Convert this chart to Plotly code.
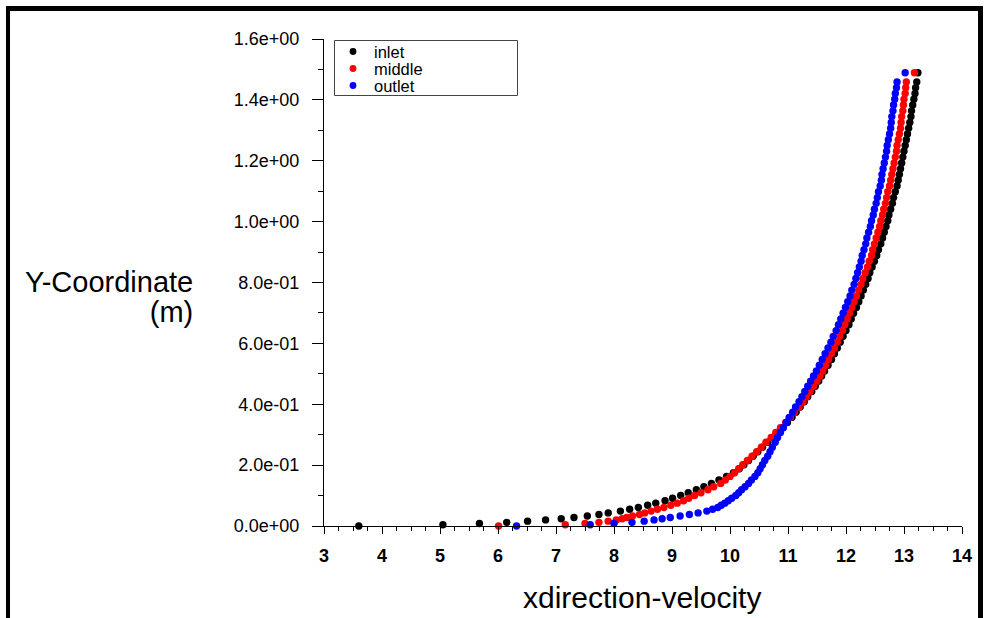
import plotly.graph_objects as go

# ---------------- data ----------------
y_coord = [0, 0.004, 0.008, 0.012, 0.016, 0.020, 0.024, 0.028, 0.033, 0.038,
           0.043, 0.049, 0.055, 0.061, 0.068, 0.075, 0.083, 0.091, 0.100, 0.109,
           0.119, 0.129, 0.140, 0.151, 0.163, 0.175, 0.188, 0.201, 0.215, 0.229,
           0.244, 0.259, 0.275, 0.291, 0.307, 0.323, 0.340, 0.357, 0.374, 0.391,
           0.408, 0.425, 0.442, 0.459, 0.476, 0.493, 0.509, 0.528, 0.547, 0.566,
           0.585, 0.604, 0.623, 0.642, 0.661, 0.680, 0.699, 0.718, 0.737, 0.756,
           0.775, 0.794, 0.813, 0.832, 0.851, 0.870, 0.889, 0.908, 0.927, 0.946,
           0.965, 0.984, 1.003, 1.022, 1.041, 1.060, 1.079, 1.098, 1.117, 1.136,
           1.155, 1.174, 1.193, 1.212, 1.231, 1.250, 1.269, 1.288, 1.307, 1.326,
           1.345, 1.364, 1.383, 1.402, 1.421, 1.440, 1.459, 1.489]

inlet_x = [3.60, 5.05, 5.68, 6.15, 6.51, 6.82, 7.09, 7.31, 7.54, 7.74,
           7.90, 8.11, 8.27, 8.42, 8.58, 8.72, 8.88, 9.01, 9.15, 9.28,
           9.42, 9.55, 9.68, 9.81, 9.94, 10.06, 10.16, 10.24, 10.32, 10.40,
           10.48, 10.56, 10.65, 10.73, 10.82, 10.90, 10.99, 11.07, 11.14, 11.21,
           11.28, 11.34, 11.41, 11.47, 11.53, 11.58, 11.63, 11.69, 11.75, 11.80,
           11.85, 11.90, 11.95, 12.00, 12.05, 12.09, 12.13, 12.18, 12.22, 12.26,
           12.30, 12.34, 12.38, 12.41, 12.45, 12.49, 12.53, 12.56, 12.60, 12.63,
           12.66, 12.69, 12.72, 12.74, 12.77, 12.80, 12.82, 12.85, 12.88, 12.90,
           12.92, 12.94, 12.96, 12.98, 13.00, 13.02, 13.04, 13.06, 13.08, 13.10,
           13.12, 13.13, 13.15, 13.17, 13.19, 13.20, 13.22, 13.24]

middle_x = [6.01, 7.16, 7.50, 7.74, 7.90, 8.04, 8.14, 8.22, 8.32, 8.44,
            8.53, 8.64, 8.75, 8.86, 8.98, 9.09, 9.20, 9.29, 9.39, 9.50,
            9.62, 9.72, 9.84, 9.92, 10.00, 10.08, 10.15, 10.22, 10.30, 10.38,
            10.46, 10.54, 10.62, 10.71, 10.79, 10.87, 10.96, 11.04, 11.11, 11.19,
            11.26, 11.32, 11.38, 11.44, 11.50, 11.55, 11.60, 11.65, 11.70, 11.75,
            11.80, 11.85, 11.89, 11.94, 11.98, 12.02, 12.06, 12.10, 12.14, 12.18,
            12.22, 12.26, 12.29, 12.33, 12.37, 12.40, 12.44, 12.46, 12.49, 12.52,
            12.55, 12.58, 12.60, 12.63, 12.65, 12.68, 12.70, 12.72, 12.75, 12.77,
            12.79, 12.81, 12.83, 12.85, 12.87, 12.88, 12.90, 12.92, 12.94, 12.95,
            12.96, 12.98, 12.99, 13.00, 13.02, 13.03, 13.04, 13.18]

outlet_x = [6.32, 7.59, 8.00, 8.31, 8.52, 8.69, 8.83, 8.97, 9.14, 9.30,
            9.45, 9.60, 9.70, 9.79, 9.85, 9.91, 9.97, 10.03, 10.10, 10.15,
            10.20, 10.26, 10.32, 10.37, 10.43, 10.48, 10.52, 10.56, 10.60, 10.65,
            10.69, 10.73, 10.78, 10.82, 10.87, 10.92, 10.97, 11.02, 11.08, 11.13,
            11.19, 11.24, 11.29, 11.34, 11.39, 11.44, 11.49, 11.54, 11.59, 11.64,
            11.69, 11.74, 11.78, 11.83, 11.87, 11.91, 11.95, 11.99, 12.03, 12.07,
            12.10, 12.14, 12.17, 12.20, 12.23, 12.26, 12.28, 12.31, 12.34, 12.36,
            12.39, 12.42, 12.44, 12.47, 12.49, 12.52, 12.54, 12.56, 12.59, 12.61,
            12.62, 12.64, 12.66, 12.68, 12.70, 12.71, 12.73, 12.75, 12.77, 12.78,
            12.79, 12.81, 12.82, 12.84, 12.85, 12.87, 12.88, 13.02]

series_names = ["inlet", "middle", "outlet"]
series_colors = ["#000000", "#ff0000", "#0000ff"]
series_x = [inlet_x, middle_x, outlet_x]

y_tickvals = [0.0, 0.2, 0.4, 0.6, 0.8, 1.0, 1.2, 1.4, 1.6]
y_ticktext = ["0.0e+00", "2.0e-01", "4.0e-01", "6.0e-01", "8.0e-01",
              "1.0e+00", "1.2e+00", "1.4e+00", "1.6e+00"]
x_tickvals = [3, 4, 5, 6, 7, 8, 9, 10, 11, 12, 13, 14]
x_ticktext = ["3", "4", "5", "6", "7", "8", "9", "10", "11", "12", "13", "14"]

x_title = "xdirection-velocity"
y_title_lines = ["Y-Coordinate", "(m)"]

# ---------------- layout geometry ----------------
W, H = 985, 618
ML, MR, MT, MB = 324, 23, 39, 92
PW, PH = W - ML - MR, H - MT - MB
FONT = "Liberation Sans, Arial, sans-serif"


def px(xp):
    return (xp - ML) / PW


def py(yp):
    return (H - MB - yp) / PH


def big(txt, size):
    return '<span style="font-size:%spx">%s</span>' % (size, txt)


fig = go.Figure()
for name, col, xs in zip(series_names, series_colors, series_x):
    fig.add_trace(go.Scatter(
        x=xs, y=y_coord, mode="markers", name=name,
        marker=dict(size=7.4, color=col, line=dict(width=0)),
        cliponaxis=False, showlegend=False,
    ))

shapes = []
annotations = []

# outer black frame (top, left, right)
shapes.append(dict(type="rect", xref="paper", yref="paper",
                   x0=px(6), x1=px(983), y0=py(11), y1=py(6),
                   fillcolor="black", line=dict(width=0), layer="above"))
shapes.append(dict(type="rect", xref="paper", yref="paper",
                   x0=px(6), x1=px(10), y0=py(618), y1=py(6),
                   fillcolor="black", line=dict(width=0), layer="above"))
shapes.append(dict(type="rect", xref="paper", yref="paper",
                   x0=px(978), x1=px(983), y0=py(618), y1=py(6),
                   fillcolor="black", line=dict(width=0), layer="above"))

# legend box (tight entries, as in the reference)
LEG_PITCH = 17
leg_y = [51.5, 51.5 + LEG_PITCH, 51.5 + 2 * LEG_PITCH]
shapes.append(dict(type="rect", xref="paper", yref="paper",
                   x0=px(334.5), x1=px(517.5), y0=py(leg_y[-1] + 10), y1=py(40.5),
                   line=dict(color="#444444", width=1), fillcolor="rgba(0,0,0,0)"))
for i, col in enumerate(series_colors):
    shapes.append(dict(type="circle", xref="paper", yref="paper",
                       xsizemode="pixel", ysizemode="pixel",
                       xanchor=px(353), yanchor=py(leg_y[i]),
                       x0=-3.4, x1=3.4, y0=-3.4, y1=3.4,
                       fillcolor=col, line=dict(width=0)))
legend_text = "<br>".join(big(n, 16.5) for n in series_names)
annotations.append(dict(xref="paper", yref="paper", x=px(372), y=py(leg_y[1]),
                        xanchor="left", yanchor="middle", showarrow=False, align="left",
                        text=legend_text,
                        font=dict(family=FONT, size=LEG_PITCH / 1.3, color="black")))

# y title (horizontal, right aligned, two lines)
annotations.append(dict(xref="paper", yref="paper", x=px(195), y=py(297),
                        xanchor="right", yanchor="middle", showarrow=False, align="right",
                        text="<br>".join(big(t, 29) for t in y_title_lines),
                        font=dict(family=FONT, size=23, color="black")))
# x title
annotations.append(dict(xref="paper", yref="paper", x=px(642), y=py(597),
                        xanchor="center", yanchor="middle", showarrow=False,
                        text=x_title, font=dict(family=FONT, size=30, color="black")))

fig.update_layout(
    width=W, height=H,
    margin=dict(l=ML, r=MR, t=MT, b=MB, pad=0),
    paper_bgcolor="white", plot_bgcolor="white",
    showlegend=False,
    shapes=shapes, annotations=annotations,
    xaxis=dict(range=[3, 14], showgrid=False, zeroline=False,
               showline=True, linecolor="black", linewidth=1,
               ticks="outside", ticklen=7, tickcolor="black", tickwidth=1,
               tickmode="array", tickvals=x_tickvals, ticktext=x_ticktext,
               tickfont=dict(family=FONT, size=18, color="black", weight="bold"),
               ticklabelstandoff=6,
               minor=dict(tickmode="linear", tick0=3, dtick=0.25, ticks="outside",
                          ticklen=4, tickcolor="black", tickwidth=1, showgrid=False)),
    yaxis=dict(range=[0, 1.6], showgrid=False, zeroline=False,
               showline=True, linecolor="black", linewidth=1,
               ticks="outside", ticklen=11, tickcolor="black", tickwidth=1,
               tickmode="array", tickvals=y_tickvals, ticktext=y_ticktext,
               tickfont=dict(family=FONT, size=18, color="black"),
               ticklabelstandoff=9,
               minor=dict(tickmode="linear", tick0=0, dtick=0.1, ticks="outside",
                          ticklen=5, tickcolor="black", tickwidth=1, showgrid=False)),
)

fig.write_html("out.html")
